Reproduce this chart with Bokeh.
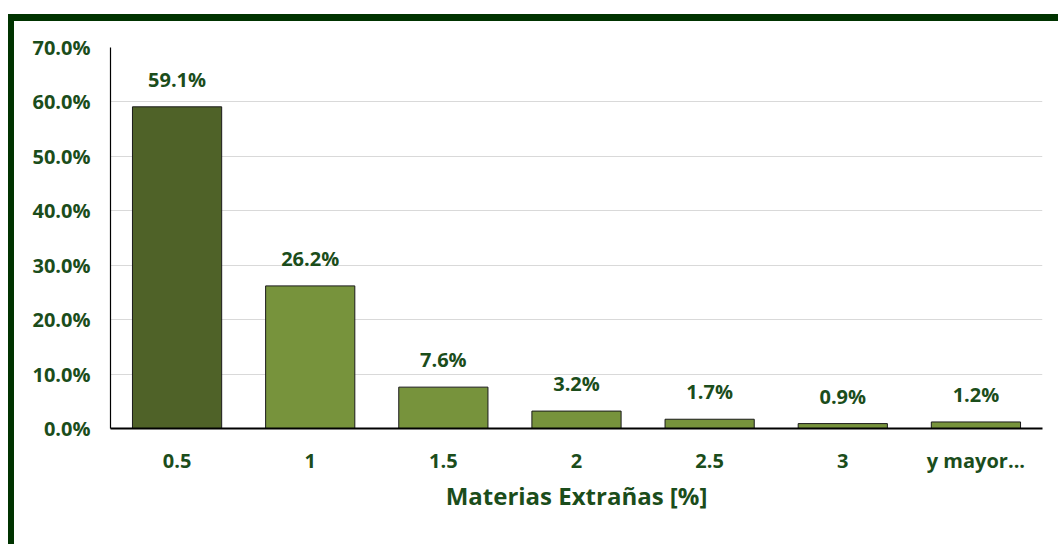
from bokeh.plotting import figure
from bokeh.models import ColumnDataSource, FactorRange, Range1d, NumeralTickFormatter, LabelSet
from bokeh.embed import file_html
from bokeh.resources import INLINE
from bokeh.core.properties import value

categories = ["0.5", "1", "1.5", "2", "2.5", "3", "y mayor..."]
values = [0.591, 0.262, 0.076, 0.032, 0.017, 0.009, 0.012]
labels = ["59.1%", "26.2%", "7.6%", "3.2%", "1.7%", "0.9%", "1.2%"]
colors = ["#4F6228", "#77933C", "#77933C", "#77933C", "#77933C", "#77933C", "#77933C"]

TXT = "#1b4d1b"
FONT = "Open Sans"

src = ColumnDataSource(dict(cat=categories, val=values, lab=labels, col=colors))

p = figure(x_range=FactorRange(*categories, range_padding=0), y_range=Range1d(0, 0.7),
           width=1050, height=530, output_backend="svg", toolbar_location=None,
           min_border_left=96, min_border_right=22, min_border_top=26, min_border_bottom=123)
p.styles = {"margin-top": "14px", "margin-left": "8px",
            "border-top": "7px solid #003300", "border-left": "6px solid #003300"}
p.outline_line_color = None
p.background_fill_color = "white"
p.border_fill_color = "white"

p.vbar(x="cat", top="val", width=0.67, fill_color="col", line_color="#1a1a1a", line_width=1, source=src)

p.add_layout(LabelSet(x="cat", y="val", text="lab", source=src, text_align="center",
                      text_baseline="bottom", y_offset=14, text_color=TXT,
                      text_font=value(FONT), text_font_style="bold", text_font_size="20px"))

p.yaxis.ticker = [0, 0.1, 0.2, 0.3, 0.4, 0.5, 0.6, 0.7]
p.yaxis.formatter = NumeralTickFormatter(format="0.0%")
for ax in (p.xaxis, p.yaxis):
    ax.major_tick_line_color = None
    ax.minor_tick_line_color = None
    ax.major_label_text_color = TXT
    ax.major_label_text_font = FONT
    ax.major_label_text_font_style = "bold"
    ax.major_label_text_font_size = "20px"
    ax.axis_line_color = "black"
p.yaxis.axis_line_width = 1.2
p.xaxis.axis_line_width = 2
p.yaxis.major_label_standoff = 14
p.xaxis.major_label_standoff = 12

p.xaxis.axis_label = "Materias Extrañas [%]"
p.xaxis.axis_label_text_color = TXT
p.xaxis.axis_label_text_font = FONT
p.xaxis.axis_label_text_font_style = "bold"
p.xaxis.axis_label_text_font_size = "24px"
p.xaxis.axis_label_standoff = 2

p.xgrid.grid_line_color = None
p.ygrid.grid_line_color = "#d9d9d9"
p.ygrid.grid_line_width = 1

html = file_html(p, INLINE)
html = html.replace("<body>", '<body style="background-color:#f0f0f0; margin:0; overflow:hidden;">', 1)
open("out.html", "w").write(html)
